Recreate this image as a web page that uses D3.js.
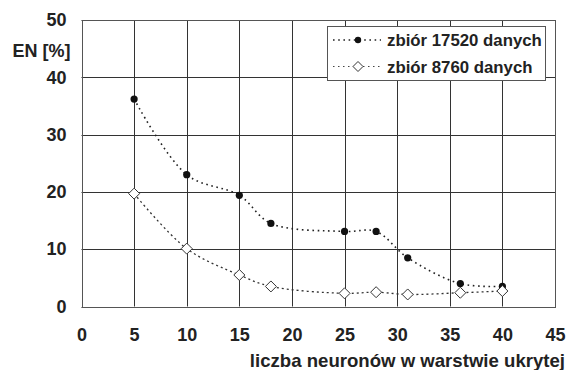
<!DOCTYPE html>
<html><head><meta charset="utf-8">
<script src="https://cdn.jsdelivr.net/npm/d3@7"></script>
<style>
html,body{margin:0;padding:0;background:#fff;}
svg{display:block;}
text{font-family:"Liberation Sans",Arial,sans-serif;font-weight:bold;fill:#222;}
</style></head>
<body>
<svg id="c" width="566" height="370"></svg>
<script>
const neurons = [5, 10, 15, 18, 25, 28, 31, 36, 40];
const set17520 = [36.2, 23.0, 19.4, 14.5, 13.1, 13.1, 8.5, 4.0, 3.5];
const set8760 = [19.7, 10.1, 5.5, 3.5, 2.3, 2.5, 2.1, 2.4, 2.7];
const xTicks = [0, 5, 10, 15, 20, 25, 30, 35, 40, 45];
const yTicks = [0, 10, 20, 30, 40, 50];
const seriesNames = ["zbiór 17520 danych", "zbiór 8760 danych"];
const yTitle = "EN [%]";
const xTitle = "liczba neuronów w warstwie ukrytej";

const svg = d3.select("#c");
const L = 81.5, R = 555, T = 20, B = 306.5;
const x = d3.scaleLinear().domain([0, 45]).range([L, R]);
const y = d3.scaleLinear().domain([0, 50]).range([B, T]);

// grid
const g = svg.append("g");
g.selectAll(".vg").data(xTicks).join("line")
  .attr("x1", d => Math.round(x(d)) + 0.5).attr("x2", d => Math.round(x(d)) + 0.5)
  .attr("y1", T).attr("y2", B).attr("stroke", "#333").attr("stroke-width", 1);
g.selectAll(".hg").data(yTicks).join("line")
  .attr("y1", d => Math.round(y(d)) + 0.5).attr("y2", d => Math.round(y(d)) + 0.5)
  .attr("x1", L).attr("x2", R).attr("stroke", "#333").attr("stroke-width", 1);
svg.append("rect").attr("x", Math.round(L) + 0.5).attr("y", T + 0.5)
  .attr("width", Math.round(R) - Math.round(L)).attr("height", Math.round(B) - T)
  .attr("fill", "none").attr("stroke", "#555");

// axes (labels only)
const xa = svg.append("g").attr("transform", `translate(0,${B})`)
  .call(d3.axisBottom(x).tickValues(xTicks).tickSize(0).tickPadding(22));
xa.select(".domain").remove();
xa.selectAll("text").attr("font-size", 18).attr("font-family", null).attr("fill", "#222");
const ya = svg.append("g").attr("transform", `translate(${L},0)`)
  .call(d3.axisLeft(y).tickValues(yTicks).tickSize(0).tickPadding(15));
ya.select(".domain").remove();
ya.selectAll("text").attr("font-size", 18).attr("font-family", null).attr("fill", "#222");

svg.append("text").attr("x", 70.5).attr("y", 56.5)
  .attr("text-anchor", "end").attr("font-size", 18).text(yTitle);
svg.append("text").attr("x", 565).attr("y", 366.5)
  .attr("text-anchor", "end").attr("font-size", 18.6).text(xTitle);

// lines
const line = d3.line().x(d => x(d[0])).y(d => y(d[1])).curve(d3.curveCatmullRom.alpha(0.5));
const d1 = neurons.map((n, i) => [n, set17520[i]]);
const d2 = neurons.map((n, i) => [n, set8760[i]]);
svg.append("path").attr("d", line(d2)).attr("fill", "none").attr("stroke", "#333")
  .attr("stroke-width", 1.3).attr("stroke-dasharray", "2 3");
svg.append("path").attr("d", line(d1)).attr("fill", "none").attr("stroke", "#222")
  .attr("stroke-width", 1.6).attr("stroke-dasharray", "1.6 3.6");

const diamond = (cx, cy, r) => `M${cx},${cy - r}L${cx + r},${cy}L${cx},${cy + r}L${cx - r},${cy}Z`;
svg.selectAll(".m1").data(d1).join("circle")
  .attr("cx", d => x(d[0])).attr("cy", d => y(d[1])).attr("r", 3.6).attr("fill", "#111");
svg.selectAll(".m2").data(d2).join("path")
  .attr("d", d => diamond(x(d[0]), y(d[1]), 5.5)).attr("fill", "#fff").attr("stroke", "#333").attr("stroke-width", 1);

// legend
const lg = svg.append("g");
lg.append("rect").attr("x", 327.5).attr("y", 26.5).attr("width", 218).attr("height", 54)
  .attr("fill", "#fff").attr("stroke", "#555");
const rows = [40, 66.5];
lg.append("line").attr("x1", 333).attr("x2", 381).attr("y1", rows[0]).attr("y2", rows[0])
  .attr("stroke", "#222").attr("stroke-width", 1.6).attr("stroke-dasharray", "1.6 3.6");
lg.append("circle").attr("cx", 358).attr("cy", rows[0]).attr("r", 3.2).attr("fill", "#111");
lg.append("line").attr("x1", 333).attr("x2", 381).attr("y1", rows[1]).attr("y2", rows[1])
  .attr("stroke", "#444").attr("stroke-width", 1.2).attr("stroke-dasharray", "1.5 3.5");
lg.append("path").attr("d", diamond(358, rows[1], 5)).attr("fill", "#fff").attr("stroke", "#333");
seriesNames.forEach((s, i) => {
  lg.append("text").attr("x", 387).attr("y", rows[i] + 6)
    .attr("font-size", 16.8).text(s);
});
</script>
</body></html>
